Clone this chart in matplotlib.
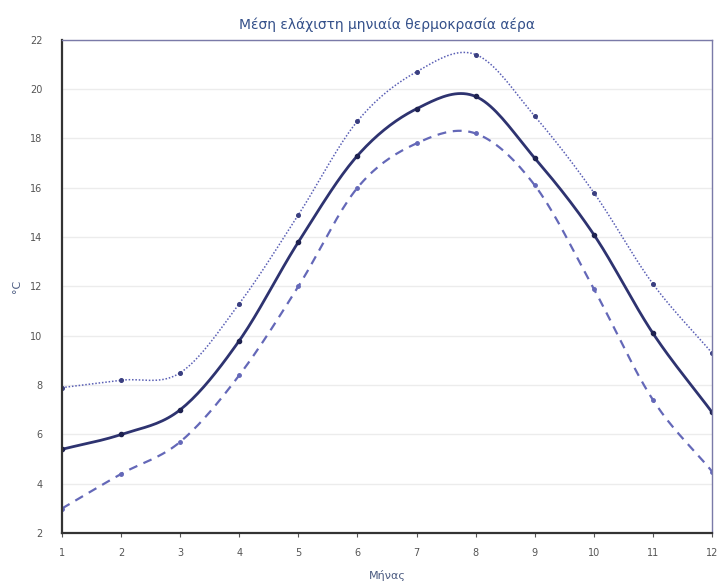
import matplotlib.pyplot as plt
import numpy as np

months = [1, 2, 3, 4, 5, 6, 7, 8, 9, 10, 11, 12]
mean_min = [5.4, 6.0, 7.0, 9.8, 13.8, 17.3, 19.2, 19.7, 17.2, 14.1, 10.1, 6.9]
upper_min = [7.9, 8.2, 8.5, 11.3, 14.9, 18.7, 20.7, 21.4, 18.9, 15.8, 12.1, 9.3]
lower_min = [3.0, 4.4, 5.7, 8.4, 12.0, 16.0, 17.8, 18.2, 16.1, 11.9, 7.4, 4.5]


def smooth(x, y, n=20):
    # catmull-rom path through the points, just for drawing
    x = np.asarray(x, float)
    y = np.asarray(y, float)
    px = np.concatenate([[2 * x[0] - x[1]], x, [2 * x[-1] - x[-2]]])
    py = np.concatenate([[2 * y[0] - y[1]], y, [2 * y[-1] - y[-2]]])
    xs, ys = [], []
    t = np.linspace(0, 1, n, endpoint=False)
    for i in range(1, len(px) - 2):
        for p, out in ((px, xs), (py, ys)):
            p0, p1, p2, p3 = p[i - 1], p[i], p[i + 1], p[i + 2]
            out.extend(0.5 * (2 * p1 + (-p0 + p2) * t
                              + (2 * p0 - 5 * p1 + 4 * p2 - p3) * t ** 2
                              + (-p0 + 3 * p1 - 3 * p2 + p3) * t ** 3))
    xs.append(x[-1])
    ys.append(y[-1])
    return xs, ys


fig = plt.figure(figsize=(7.2, 5.84), dpi=100)
ax = fig.add_axes([0.086, 0.087, 0.903, 0.845])

sx, sy = smooth(months, upper_min)
ax.plot(sx, sy, color='#5a5fb5', lw=1.1, ls=(0, (1, 1.2)))
ax.plot(months, upper_min, 'o', color='#3a3f80', ms=2.6)

sx, sy = smooth(months, mean_min)
ax.plot(sx, sy, color='#2e3370', lw=2.0)
ax.plot(months, mean_min, 'o', color='#1e2250', ms=3.0)

sx, sy = smooth(months, lower_min)
ax.plot(sx, sy, color='#6468b8', lw=1.6, ls=(0, (4, 3)))
ax.plot(months, lower_min, 'o', color='#6468b8', ms=2.5)

ax.set_xlim(1, 12)
ax.set_ylim(2, 22)
ax.set_xticks(months)
ax.set_yticks(range(2, 23, 2))
ax.yaxis.grid(True, color='#ececec', lw=1)
ax.set_axisbelow(True)
ax.tick_params(labelsize=7, colors='#555555', length=3)
ax.tick_params(axis='x', pad=8)
ax.tick_params(axis='y', length=0, pad=14)

for s in ['left', 'bottom']:
    ax.spines[s].set_color('#333333')
    ax.spines[s].set_linewidth(1.6)
for s in ['top', 'right']:
    ax.spines[s].set_color('#7a7aa8')
    ax.spines[s].set_linewidth(1.0)

ax.set_title('Μέση ελάχιστη μηνιαία θερμοκρασία αέρα', fontsize=10, color='#34508a', pad=8)
ax.set_xlabel('Μήνας', fontsize=8, color='#4a5a80', labelpad=8)
ax.set_ylabel('°C', fontsize=8, color='#4a5a80', labelpad=6)

fig.savefig('out.png', dpi=100)
